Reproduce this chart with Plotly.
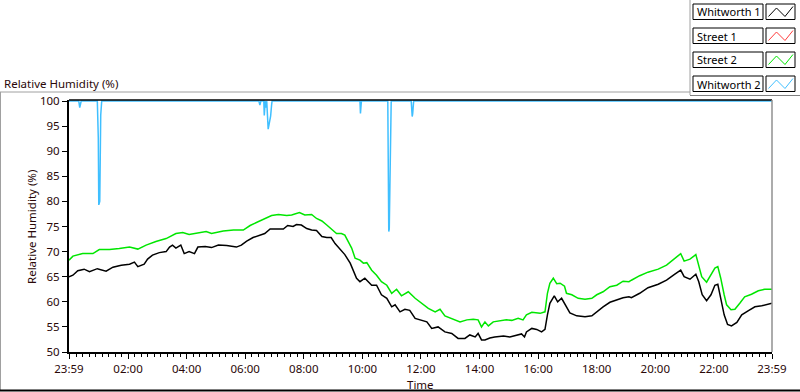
import pandas as pd
import plotly.graph_objects as go

START = "2000-01-01 23:59"

# Whitworth 1 (black): minutes after 23:59, relative humidity (%)
black_min = [0, 8, 18, 31, 42, 58, 76, 90, 107, 124, 134, 141, 154, 161, 171, 185, 199, 206, 212, 219,
             229, 236, 246, 257, 264, 274, 279, 292, 306, 323, 343, 353, 364, 377, 391, 401, 412, 425,
             439, 448, 459, 466, 476, 487, 497, 507, 518, 528, 537, 545, 555, 565, 576, 582, 589, 596,
             606, 613, 620, 630, 640, 651, 661, 668, 678, 688, 698, 709, 719, 733, 743, 756, 770, 784,
             797, 811, 821, 832, 838, 845, 852, 862, 872, 890, 903, 917, 927, 933, 937, 948, 958, 968,
             975, 980, 985, 994, 1001, 1009, 1016, 1026, 1040, 1057, 1071, 1081, 1094, 1108, 1122, 1135,
             1147, 1152, 1169, 1186, 1207, 1224, 1241, 1253, 1260, 1272, 1284, 1290, 1297, 1306, 1315,
             1323, 1329, 1335, 1342, 1349, 1357, 1368, 1378, 1391, 1405, 1419, 1432, 1440]
black_val = [65.0, 65.3, 66.2, 66.5, 66.0, 66.6, 66.1, 66.9, 67.3, 67.5, 67.9, 67.0, 67.5, 68.5, 69.3,
             69.8, 70.0, 70.9, 71.3, 70.7, 71.3, 69.6, 70.0, 69.6, 70.9, 70.9, 71.0, 70.8, 71.3, 71.2,
             70.9, 71.3, 72.1, 72.8, 73.2, 73.6, 74.5, 74.5, 74.5, 75.2, 75.0, 75.4, 75.3, 74.6, 74.3,
             74.2, 73.0, 72.8, 72.8, 71.6, 70.6, 69.4, 67.7, 66.3, 64.7, 64.0, 64.7, 64.0, 63.3, 63.3,
             61.4, 60.7, 59.0, 59.4, 58.0, 58.5, 58.3, 56.7, 56.4, 56.0, 54.7, 55.0, 54.0, 53.7, 52.7,
             52.7, 53.4, 53.0, 53.7, 52.4, 52.4, 52.8, 53.0, 53.2, 53.0, 53.4, 53.6, 53.0, 54.0, 54.7,
             54.5, 54.0, 54.5, 57.4, 59.7, 61.2, 60.0, 60.7, 59.4, 57.8, 57.2, 57.0, 57.2, 58.0, 59.0,
             59.9, 60.4, 60.8, 61.0, 60.8, 61.7, 62.8, 63.5, 64.3, 65.5, 66.3, 65.0, 64.5, 65.5, 64.0,
             61.4, 60.2, 61.4, 63.3, 63.5, 60.4, 57.4, 55.5, 55.2, 55.9, 57.4, 58.2, 59.0, 59.2, 59.5,
             59.7]

# Street 2 (green)
green_min = [0, 8, 28, 49, 62, 83, 103, 124, 141, 158, 178, 199, 219, 233, 246, 267, 281, 292, 316,
             337, 357, 371, 388, 401, 415, 429, 446, 456, 472, 483, 497, 507, 518, 528, 538, 548, 558,
             565, 572, 579, 586, 596, 603, 610, 620, 630, 640, 651, 661, 671, 681, 695, 709, 722, 736,
             750, 760, 770, 784, 801, 815, 828, 838, 845, 852, 859, 869, 883, 896, 907, 920, 930, 937,
             948, 965, 975, 980, 985, 992, 999, 1006, 1015, 1019, 1030, 1043, 1057, 1071, 1081, 1094,
             1108, 1122, 1135, 1147, 1152, 1169, 1186, 1207, 1224, 1241, 1253, 1260, 1272, 1284, 1289,
             1296, 1306, 1315, 1323, 1329, 1335, 1342, 1347, 1356, 1364, 1374, 1384, 1398, 1412, 1425,
             1440]
green_val = [68.3, 69.1, 69.6, 69.6, 70.4, 70.4, 70.6, 70.9, 70.5, 71.3, 72.0, 72.6, 73.6, 73.8, 73.4,
             73.8, 74.0, 73.6, 74.1, 74.3, 74.3, 75.2, 76.0, 76.6, 77.2, 77.4, 77.2, 77.3, 77.8, 77.3,
             77.4, 76.6, 76.1, 75.3, 74.5, 73.6, 73.6, 73.3, 72.0, 70.7, 68.7, 68.3, 67.7, 67.8, 66.3,
             65.3, 64.0, 63.3, 61.7, 62.5, 61.2, 62.0, 60.7, 59.7, 58.7, 58.0, 58.5, 57.2, 56.7, 56.0,
             56.4, 56.5, 56.4, 55.0, 56.0, 55.2, 56.0, 56.2, 56.4, 56.3, 56.7, 56.4, 57.4, 57.9, 57.7,
             58.0, 61.7, 63.7, 64.7, 63.6, 63.7, 63.1, 61.7, 61.4, 60.7, 60.5, 60.7, 61.4, 62.0, 63.0,
             63.3, 64.1, 64.0, 64.3, 65.2, 65.9, 66.5, 67.3, 68.7, 69.6, 68.1, 68.5, 69.4, 67.3, 65.0,
             63.9, 65.3, 66.7, 67.0, 64.7, 61.4, 59.4, 58.4, 58.5, 59.7, 61.0, 61.5, 62.2, 62.5, 62.5]

# Whitworth 2 (light blue)
blue_min = [0, 20, 22, 25, 58, 60, 61, 63, 65, 67, 389, 391, 393, 399, 400, 402, 403, 405, 408, 411,
            413, 415, 416, 596, 597, 599, 653, 655, 656, 658, 660, 701, 703, 704, 706, 1440]
blue_val = [100, 100, 98.7, 100, 100, 92.7, 79.3, 80.0, 97.2, 100, 100, 99.2, 100, 100, 97.1, 100,
            98.7, 100, 94.4, 95.6, 97.0, 99.2, 100, 100, 97.5, 100, 100, 74.0, 74.5, 87.3, 100, 100,
            96.9, 97.5, 100, 100]

# Street 1 (red): no samples shown
red_min = []
red_val = []

tick_min = [0, 121, 241, 361, 481, 601, 721, 841, 961, 1081, 1201, 1321, 1440]
tick_labels = ["23:59", "02:00", "04:00", "06:00", "08:00", "10:00", "12:00", "14:00", "16:00",
               "18:00", "20:00", "22:00", "23:59"]
y_ticks = [50, 55, 60, 65, 70, 75, 80, 85, 90, 95, 100]

legend_names = ["Whitworth 1", "Street 1", "Street 2", "Whitworth 2"]
legend_colors = ["#000000", "#ff3b3b", "#00e600", "#3fbfff"]

t0 = pd.Timestamp(START)


def to_x(mins):
    return [t0 + pd.Timedelta(minutes=m) for m in mins]


W, H = 800, 392
L, R, T, B = 69, 28, 100, 40
PW, PH = W - L - R, H - T - B


def px(x):
    return (x - L) / PW


def py(y):
    return (H - B - y) / PH


FONT = "Noto Sans"
TXT = "#2a0808"

fig = go.Figure()
series = [
    (red_min, red_val, legend_colors[1], legend_names[1]),
    (blue_min, blue_val, legend_colors[3], legend_names[3]),
    (green_min, green_val, legend_colors[2], legend_names[2]),
    (black_min, black_val, legend_colors[0], legend_names[0]),
]
for mins, vals, col, name in series:
    fig.add_trace(go.Scatter(x=to_x(mins), y=vals, mode="lines", name=name,
                             line=dict(color=col, width=1.5), showlegend=False))

shapes = []
ann = []
gray = "#a0a0a0"


def pline(x0, y0, x1, y1, color, width=1):
    shapes.append(dict(type="line", xref="paper", yref="paper", x0=px(x0), y0=py(y0),
                       x1=px(x1), y1=py(y1), line=dict(color=color, width=width)))


# frame lines around the graph
pline(0, 92, 690, 92, gray)
pline(690, 0, 690, 95, gray)
pline(690, 95.5, 800, 95.5, "#808080")
pline(0.5, 92, 0.5, 390, gray)
pline(0, 390.5, 800, 390.5, "#000000", 2)
# plot area top and right border
shapes.append(dict(type="line", xref="paper", yref="paper", x0=0, y0=1, x1=1, y1=1,
                   line=dict(color="#000000", width=1.5)))
shapes.append(dict(type="line", xref="paper", yref="paper", x0=1, y0=0, x1=1, y1=1,
                   line=dict(color="#909090", width=1.5)))

# custom legend
row_top = [4, 28, 52, 76]
for name, col, top in zip(legend_names, legend_colors, row_top):
    bot = top + 15.5
    shapes.append(dict(type="rect", xref="paper", yref="paper", x0=px(693), x1=px(763),
                       y0=py(bot), y1=py(top), line=dict(color="#000000", width=1)))
    shapes.append(dict(type="rect", xref="paper", yref="paper", x0=px(766), x1=px(795),
                       y0=py(bot), y1=py(top), line=dict(color="#000000", width=1)))
    pts = [(768.5, top + 12.5), (776.5, top + 4), (785, top + 12.5), (793, top + 2.5)]
    path = "M " + " L ".join(f"{px(a):.5f},{py(b):.5f}" for a, b in pts)
    shapes.append(dict(type="path", xref="paper", yref="paper", path=path,
                       line=dict(color=col, width=1)))
    ann.append(dict(x=px(695), y=py(top + 8), xref="paper", yref="paper", text=name,
                    showarrow=False, xanchor="left", yanchor="middle",
                    font=dict(family=FONT, size=11, color="#000000")))

ann.append(dict(x=px(2), y=py(83), xref="paper", yref="paper", text="Relative Humidity (%)",
                showarrow=False, xanchor="left", yanchor="middle",
                font=dict(family=FONT, size=11.5, color=TXT)))
ann.append(dict(x=px(31), y=py(227), xref="paper", yref="paper", text="Relative Humidity (%)",
                showarrow=False, xanchor="center", yanchor="middle", textangle=-90,
                font=dict(family=FONT, size=11.5, color=TXT)))
ann.append(dict(x=px(420), y=py(384), xref="paper", yref="paper", text="Time",
                showarrow=False, xanchor="center", yanchor="middle",
                font=dict(family=FONT, size=11.5, color=TXT)))

fig.update_layout(
    width=W, height=H, autosize=False,
    margin=dict(l=L, r=R, t=T, b=B, pad=0),
    paper_bgcolor="white", plot_bgcolor="white",
    shapes=shapes, annotations=ann,
    xaxis=dict(
        type="date", range=[t0, t0 + pd.Timedelta(minutes=1440)],
        tickmode="array", tickvals=to_x(tick_min), ticktext=tick_labels,
        ticks="outside", ticklen=5, tickwidth=1, tickcolor="#000000",
        showline=True, linecolor="#000000", linewidth=2,
        showgrid=False, zeroline=False, automargin=False,
        tickfont=dict(family=FONT, size=11.5, color=TXT),
        minor=dict(ticks="outside", ticklen=3, tickwidth=1, tickcolor="#000000",
                   dtick=800000, tick0="2000-01-02 02:00", showgrid=False),
    ),
    yaxis=dict(
        range=[50, 100.2], tickmode="array", tickvals=y_ticks,
        ticks="outside", ticklen=5, tickwidth=1, tickcolor="#000000",
        showline=True, linecolor="#000000", linewidth=2,
        showgrid=False, zeroline=False, automargin=False,
        tickfont=dict(family=FONT, size=11.5, color=TXT),
    ),
)

fig.write_html("out.html", config={"displayModeBar": False},
               post_script="document.body.style.margin='0px';")
